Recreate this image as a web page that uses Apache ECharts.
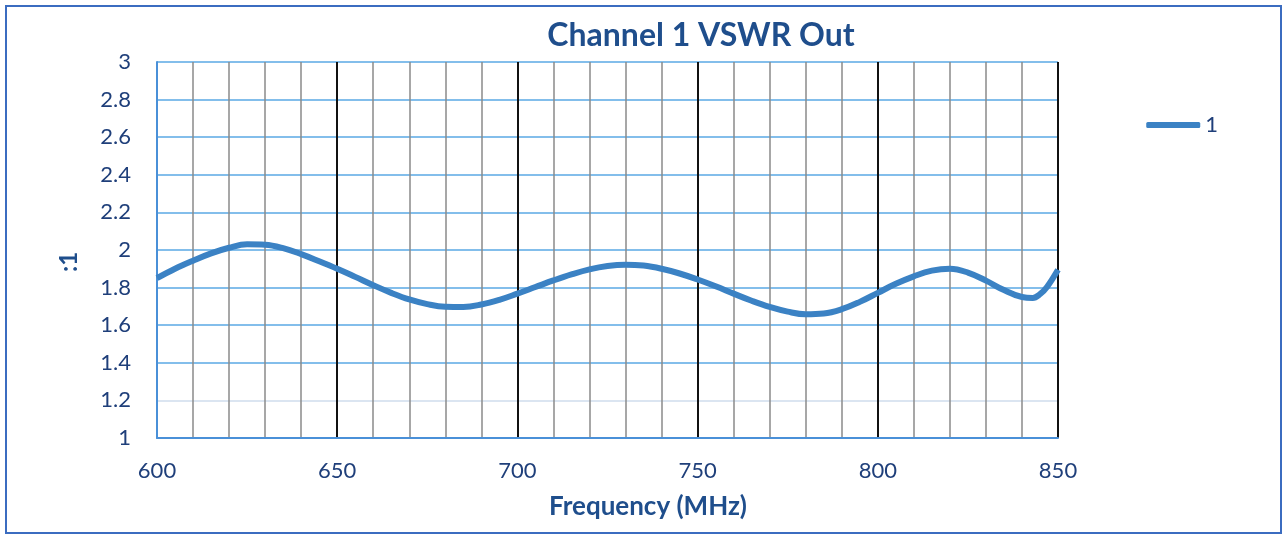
<!DOCTYPE html>
<html>
<head>
<meta charset="utf-8">
<title>Channel 1 VSWR Out</title>
<script src="https://cdn.jsdelivr.net/npm/echarts@6/dist/echarts.min.js"></script>
<style>
  html, body { margin: 0; padding: 0; background: #fff; }
  #chart { width: 1283px; height: 534px; }
</style>
</head>
<body>
<div id="chart"></div>
<script>
// frequency (MHz) and VSWR
const freqs = [600, 605, 610, 615, 620, 625, 630, 635, 640, 645,
  650, 655, 660, 665, 670, 675, 680, 685, 690, 695,
  700, 705, 710, 715, 720, 725, 730, 735, 740, 745,
  750, 755, 760, 765, 770, 775, 780, 785, 790, 795,
  800, 805, 810, 815, 820, 825, 830, 835, 840, 843, 845, 847, 850]
const vswr = [1.85, 1.90, 1.943, 1.982, 2.012, 2.03, 2.028, 2.01, 1.978, 1.94,
  1.90, 1.857, 1.813, 1.772, 1.737, 1.712, 1.698, 1.697, 1.71, 1.735,
  1.768, 1.803, 1.838, 1.87, 1.897, 1.915, 1.922, 1.917, 1.90, 1.875,
  1.843, 1.807, 1.768, 1.73, 1.697, 1.672, 1.658, 1.662, 1.685, 1.724,
  1.772, 1.82, 1.86, 1.89, 1.9, 1.88, 1.837, 1.787, 1.75, 1.745, 1.765, 1.805, 1.895]
const seriesName = '1'

const textColor = '#1f3f7a'
const fontFamily = 'Lato, "Open Sans", sans-serif'

const chart = echarts.init(document.getElementById('chart'))

chart.setOption({
  animation: false,
  title: {
    text: 'Channel 1 VSWR Out',
    left: 696,
    textAlign: 'center',
    top: 15,
    textStyle: { color: '#1f4e8c', fontSize: 32, fontWeight: 'bold', fontFamily }
  },
  legend: {
    right: 60,
    top: 109,
    icon: 'roundRect',
    itemWidth: 54,
    itemHeight: 6,
    itemGap: 4,
    textStyle: { color: textColor, fontSize: 22, fontFamily },
    data: [seriesName]
  },
  grid: {
    left: 157,
    right: 225,
    top: 62,
    bottom: 96
  },
  graphic: [{
    type: 'rect',
    shape: { x: 6, y: 6, width: 1275, height: 527 },
    style: { fill: 'none', stroke: '#3b6cc0', lineWidth: 2 }
  }, {
    // x axis title, centred a little right of the plot centre as in the source
    type: 'text',
    x: 648,
    y: 507,
    style: {
      text: 'Frequency (MHz)',
      fill: '#1f4e8c',
      font: 'bold 26px ' + fontFamily,
      align: 'center',
      verticalAlign: 'middle'
    }
  }],
  xAxis: {
    type: 'value',
    min: 600,
    max: 850,
    interval: 50,
    axisLine: { show: true, lineStyle: { color: '#4a90d8', width: 2 } },
    axisTick: { show: false },
    axisLabel: { color: textColor, fontSize: 22, margin: 22, fontFamily },
    splitLine: { show: true, showMinLine: false, lineStyle: { color: '#111', width: 2 } },
    minorTick: { show: false, splitNumber: 5 },
    minorSplitLine: { show: true, lineStyle: { color: '#8a8a8a', width: 1.5 } }
  },
  yAxis: {
    type: 'value',
    min: 1,
    max: 3,
    interval: 0.2,
    name: ':1',
    nameLocation: 'middle',
    nameRotate: 90,
    nameGap: 76,
    nameTextStyle: { color: '#1f4e8c', fontSize: 24, fontWeight: 'bold', fontFamily, padding: [0, 0, 0, -24] },
    axisLine: { show: true, lineStyle: { color: '#4a90d8', width: 2 } },
    axisTick: { show: false },
    axisLabel: { color: textColor, fontSize: 22, margin: 26, fontFamily },
    splitLine: {
      lineStyle: {
        color: ['#5aa8e4', '#cfdcec', '#5aa8e4', '#5aa8e4', '#5aa8e4', '#5aa8e4',
          '#5aa8e4', '#5aa8e4', '#5aa8e4', '#5aa8e4', '#5aa8e4'],
        width: 1.5
      }
    }
  },
  series: [{
    name: seriesName,
    type: 'line',
    smooth: 0.4,
    symbol: 'none',
    data: freqs.map((f, i) => [f, vswr[i]]),
    lineStyle: { color: '#3b82c4', width: 6 },
    itemStyle: { color: '#3b82c4' }
  }]
})
</script>
</body>
</html>
